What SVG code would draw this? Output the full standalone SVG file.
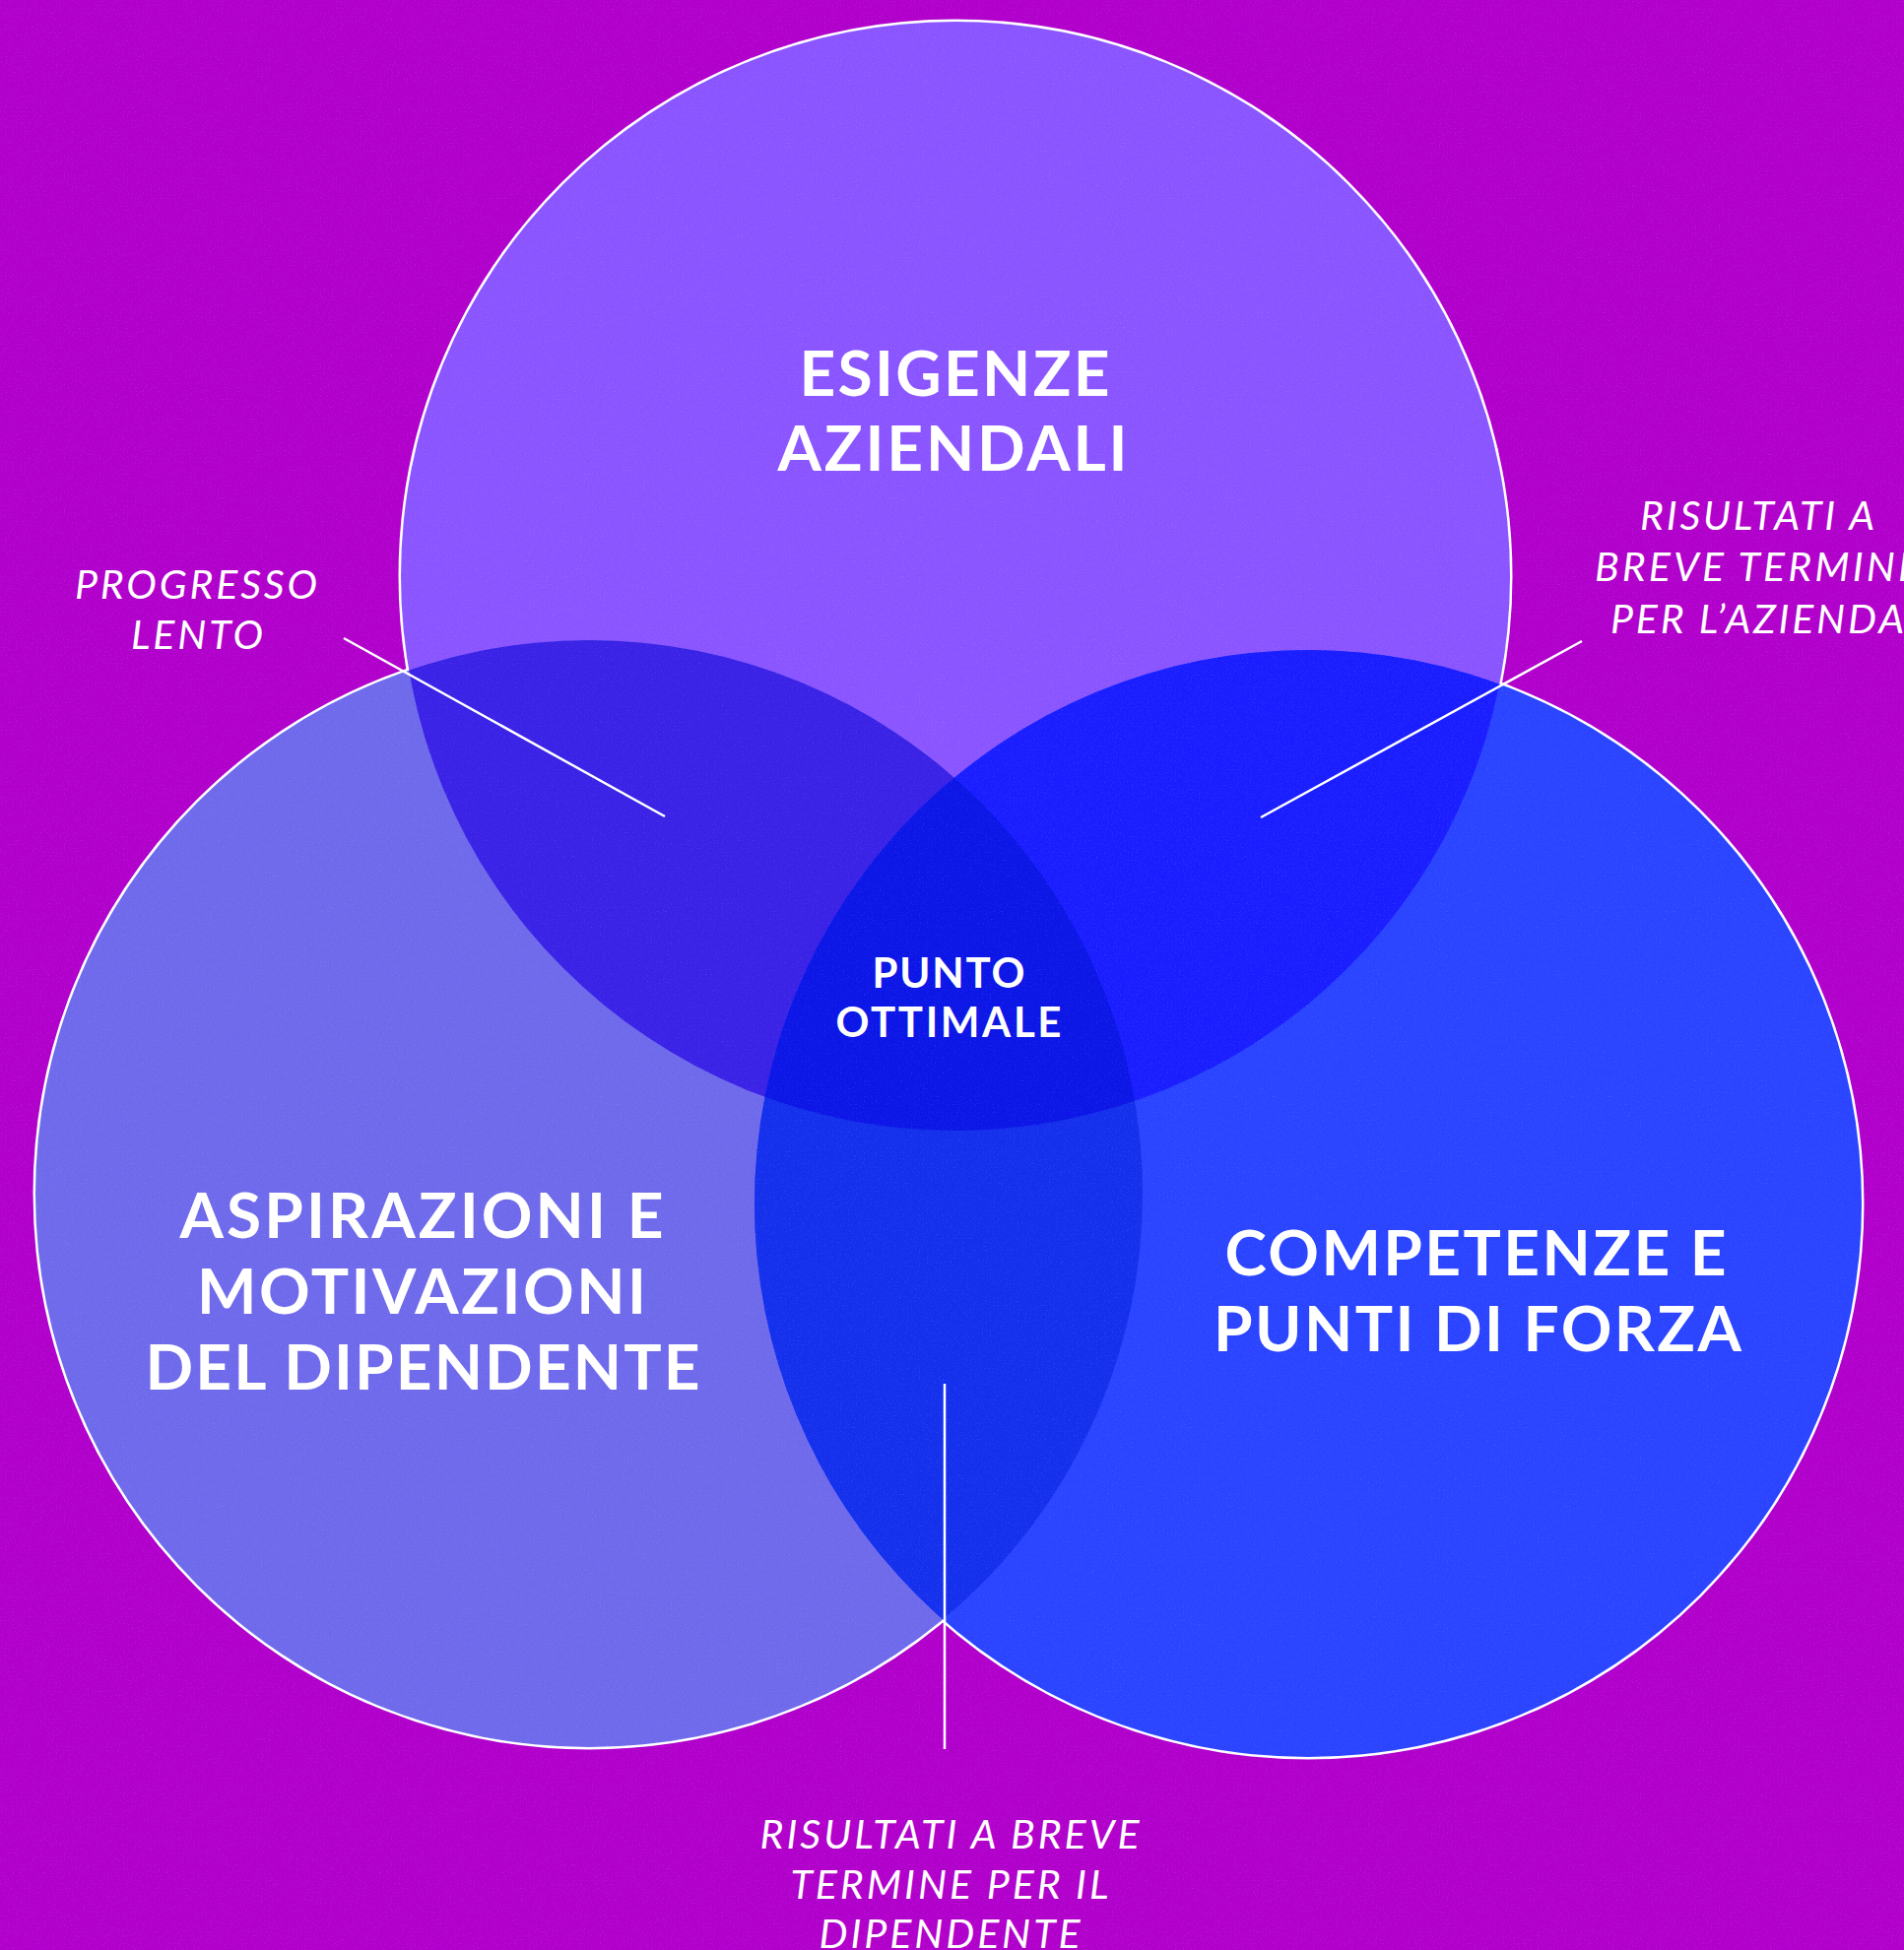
<svg xmlns="http://www.w3.org/2000/svg" width="1933" height="1980" viewBox="0 0 1933 1980">
<defs>
<style>
.head{font-family:Lato,"Liberation Sans",sans-serif;font-weight:700;fill:#fff;text-anchor:middle}
.lbl{font-family:Lato,"Liberation Sans",sans-serif;font-weight:400;font-style:italic;fill:#fff;text-anchor:middle;font-size:41px}
.conn{stroke:#fff;stroke-width:2.5;fill:none}
.ring{fill:none;stroke:#fff;stroke-width:5}
</style>
<clipPath id="cTop"><circle cx="970" cy="585" r="563"/></clipPath>
<clipPath id="cLeft"><circle cx="598" cy="1212" r="562"/></clipPath>
<clipPath id="cRight"><circle cx="1328" cy="1222" r="562"/></clipPath>
<filter id="grain" x="0" y="0" width="100%" height="100%">
<feTurbulence type="fractalNoise" baseFrequency="0.75" numOctaves="1" seed="3" result="n"/>
<feColorMatrix type="matrix" values="0 0 0 0 1  0 0 0 0 1  0 0 0 0 1  4 0 0 0 -2.2" />
</filter>
</defs>
<rect width="1933" height="1980" fill="#B100CB"/>
<g id="circles">
<circle class="ring" cx="970" cy="585" r="563"/>
<circle class="ring" cx="598" cy="1212" r="562"/>
<circle class="ring" cx="1328" cy="1222" r="562"/>
<circle cx="970" cy="585" r="563" fill="#8A55FF"/>
<circle cx="598" cy="1212" r="562" fill="#6E6AEB"/>
<circle cx="1328" cy="1222" r="562" fill="#2A44FF"/>
<circle cx="598" cy="1212" r="562" fill="#3A22E6" clip-path="url(#cTop)"/>
<circle cx="1328" cy="1222" r="562" fill="#1A1EFF" clip-path="url(#cTop)"/>
<circle cx="1328" cy="1222" r="562" fill="#1530EC" clip-path="url(#cLeft)"/>
<g clip-path="url(#cTop)"><circle cx="1328" cy="1222" r="562" fill="#0C16E6" clip-path="url(#cLeft)"/></g>
</g>
<rect width="1933" height="1980" filter="url(#grain)" opacity="0.09"/>
<g id="connectors">
<line class="conn" x1="349" y1="648" x2="675" y2="829"/>
<line class="conn" x1="1606" y1="651" x2="1280" y2="830"/>
<line class="conn" x1="959" y1="1405" x2="959" y2="1776"/>
</g>
<g id="node-esigenze">
<text class="head" font-size="64" x="969" y="402" textLength="315" lengthAdjust="spacing">ESIGENZE</text>
<text class="head" font-size="64" x="967" y="478" textLength="355" lengthAdjust="spacing">AZIENDALI</text>
</g>
<g id="node-aspirazioni">
<text class="head" font-size="64" x="428" y="1257" textLength="491" lengthAdjust="spacing">ASPIRAZIONI E</text>
<text class="head" font-size="64" x="428" y="1334" textLength="456" lengthAdjust="spacing">MOTIVAZIONI</text>
<text class="head" font-size="64" x="429" y="1411" textLength="563" lengthAdjust="spacing">DEL DIPENDENTE</text>
</g>
<g id="node-competenze">
<text class="head" font-size="64" x="1498" y="1295" textLength="509" lengthAdjust="spacing">COMPETENZE E</text>
<text class="head" font-size="64" x="1500" y="1372" textLength="536" lengthAdjust="spacing">PUNTI DI FORZA</text>
</g>
<g id="node-punto">
<text class="head" font-size="42" x="963" y="1003" textLength="155" lengthAdjust="spacing">PUNTO</text>
<text class="head" font-size="42" x="963" y="1053" textLength="229" lengthAdjust="spacing">OTTIMALE</text>
</g>
<g id="label-progresso">
<text class="lbl" x="199" y="608" textLength="246" lengthAdjust="spacing">PROGRESSO</text>
<text class="lbl" x="200" y="659" textLength="134" lengthAdjust="spacing">LENTO</text>
</g>
<g id="label-azienda">
<text class="lbl" x="1784" y="538" textLength="238" lengthAdjust="spacing">RISULTATI A</text>
<text class="lbl" x="1784" y="590" textLength="330" lengthAdjust="spacing">BREVE TERMINE</text>
<text class="lbl" x="1784" y="643" textLength="298" lengthAdjust="spacing">PER L’AZIENDA</text>
</g>
<g id="label-dipendente">
<text class="lbl" x="964" y="1877" textLength="385" lengthAdjust="spacing">RISULTATI A BREVE</text>
<text class="lbl" x="964" y="1928" textLength="323" lengthAdjust="spacing">TERMINE PER IL</text>
<text class="lbl" x="964" y="1978" textLength="265" lengthAdjust="spacing">DIPENDENTE</text>
</g>
</svg>
